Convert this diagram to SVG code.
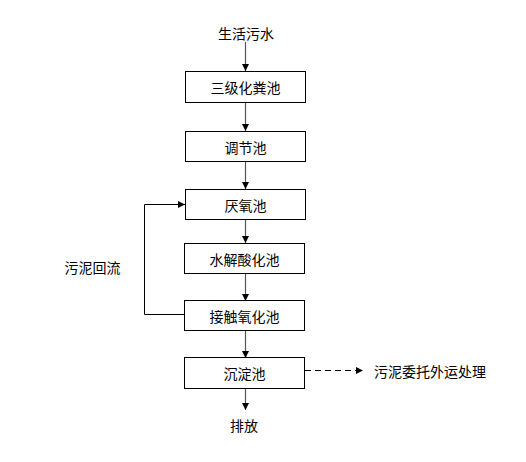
<svg xmlns="http://www.w3.org/2000/svg" width="526" height="462" viewBox="0 0 526 462">
<style>
.box{fill:#fff;stroke:#000;stroke-width:1}
.t{font-family:"Noto Sans CJK SC","Liberation Sans",sans-serif;font-size:14px;fill:#000;text-anchor:middle;dominant-baseline:central}
.ln{stroke:#555;stroke-width:1.2;fill:none}
.lb{stroke:#000;stroke-width:1;fill:none}
</style>
<defs>
<marker id="ah" markerWidth="8" markerHeight="8" refX="7" refY="4" orient="auto" markerUnits="userSpaceOnUse">
<path d="M0,0.5 L7,4 L0,7.5 Z" fill="#000"/>
</marker>
</defs>
<rect width="526" height="462" fill="#fff"/>
<g id="connectors">
<line class="ln" x1="245.5" y1="42" x2="245.5" y2="71" marker-end="url(#ah)"/>
<line class="ln" x1="245.5" y1="103" x2="245.5" y2="131" marker-end="url(#ah)"/>
<line class="ln" x1="245.5" y1="161" x2="245.5" y2="189" marker-end="url(#ah)"/>
<line class="ln" x1="245.5" y1="220" x2="245.5" y2="243" marker-end="url(#ah)"/>
<line class="ln" x1="245.5" y1="273" x2="245.5" y2="301" marker-end="url(#ah)"/>
<line class="ln" x1="245.5" y1="331" x2="245.5" y2="358" marker-end="url(#ah)"/>
<line class="ln" x1="245.5" y1="388" x2="245.5" y2="410" marker-end="url(#ah)"/>
<polyline class="lb" points="184,314.5 144.5,314.5 144.5,204.5 185,204.5" marker-end="url(#ah)"/>
<line class="lb" x1="305" y1="370.5" x2="363" y2="370.5" stroke-dasharray="6,4" marker-end="url(#ah)"/>
</g>
<g id="n0"><text class="t" x="246" y="33">生活污水</text></g>
<g id="n1"><rect class="box" x="185.5" y="71.5" width="120" height="31"/><text class="t" x="245.5" y="87">三级化粪池</text></g>
<g id="n2"><rect class="box" x="185.5" y="131.5" width="120" height="30"/><text class="t" x="245.5" y="146.5">调节池</text></g>
<g id="n3"><rect class="box" x="185.5" y="189.5" width="120" height="30"/><text class="t" x="245.5" y="204.5">厌氧池</text></g>
<g id="n4"><rect class="box" x="184.5" y="243.5" width="120" height="30"/><text class="t" x="244.5" y="258.5">水解酸化池</text></g>
<g id="n5"><rect class="box" x="184.5" y="300.5" width="120" height="30"/><text class="t" x="244.5" y="315.5">接触氧化池</text></g>
<g id="n6"><rect class="box" x="184.5" y="357.5" width="120" height="31"/><text class="t" x="244.5" y="373">沉淀池</text></g>
<g id="n7"><text class="t" x="244" y="425">排放</text></g>
<g id="n8"><text class="t" x="430" y="371">污泥委托外运处理</text></g>
<g id="n9"><text class="t" x="92.5" y="267">污泥回流</text></g>
</svg>
